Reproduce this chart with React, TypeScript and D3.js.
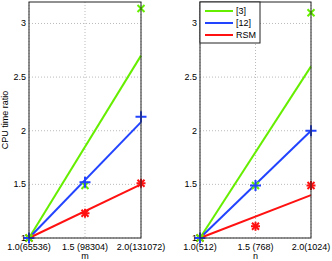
import React, { useEffect, useRef } from 'react';
import * as d3 from 'd3';

// x positions (scale factor) and tick labels
const xValues = [1, 1.5, 2];
const yTicks = [1, 1.5, 2, 2.5, 3];
const mTickLabels = ['1.0(65536)', '1.5 (98304)', '2.0(131072)'];
const nTickLabels = ['1.0(512)', '1.5 (768)', '2.0(1024)'];

const seriesNames = ['[3]', '[12]', 'RSM'];
const seriesColors = ['#66ee00', '#2244ff', '#ff1111'];
const markerShapes = ['x', '+', '*'];

// left panel (m): measured points and fitted line end values
const mMeasured = [
  [1, 1.49, 3.14],
  [1, 1.52, 2.13],
  [1, 1.23, 1.51],
];
const mFitEnd = [2.7, 2.08, 1.5];

// right panel (n)
const nMeasured = [
  [1, 1.49, 3.1],
  [1, 1.49, 2.0],
  [1, 1.11, 1.49],
];
const nFitEnd = [2.6, 2.0, 1.4];

const App: React.FC = () => {
  const svgRef = useRef<SVGSVGElement>(null);

  useEffect(() => {
    if (!svgRef.current) return;
    const svg = d3.select(svgRef.current);
    svg.selectAll('*').remove();

    const font = 'Liberation Sans, Arial, sans-serif';
    const y = d3.scaleLinear().domain([1, 3.2]).range([238, 2]);

    const drawPanel = (
      left: number,
      right: number,
      tickLabels: string[],
      xLabel: string,
      measured: number[][],
      fitEnd: number[],
      legend: boolean,
      yLabel: boolean
    ) => {
      const x = d3.scaleLinear().domain([1, 2]).range([left, right]);
      const g = svg.append('g');

      g.append('rect')
        .attr('x', left).attr('y', y(3.2))
        .attr('width', right - left).attr('height', y(1) - y(3.2))
        .attr('fill', 'white');

      // grid
      g.selectAll('.hgrid').data(yTicks).enter().append('line')
        .attr('x1', left).attr('x2', right)
        .attr('y1', d => y(d)).attr('y2', d => y(d))
        .attr('stroke', '#bbb').attr('stroke-width', 1)
        .attr('stroke-dasharray', '1,2');
      g.selectAll('.vgrid').data(xValues).enter().append('line')
        .attr('x1', d => x(d)).attr('x2', d => x(d))
        .attr('y1', y(3.2)).attr('y2', y(1))
        .attr('stroke', '#bbb').attr('stroke-width', 1)
        .attr('stroke-dasharray', '1,2');

      // fitted lines
      fitEnd.forEach((v, i) => {
        g.append('line')
          .attr('x1', x(1)).attr('y1', y(1))
          .attr('x2', x(2)).attr('y2', y(v))
          .attr('stroke', seriesColors[i]).attr('stroke-width', 2);
      });

      // markers (red first, then green, blue on top)
      [2, 0, 1].forEach(i => {
        measured[i].forEach((v, j) => {
          const cx = x(xValues[j]);
          const cy = y(v);
          const c = seriesColors[i];
          const s = 3.5;
          const mg = g.append('g').attr('transform', `translate(${cx},${cy})`)
            .attr('stroke', c).attr('stroke-width', 2).attr('fill', 'none');
          const shape = markerShapes[i];
          if (shape === 'x' || shape === '*') {
            mg.append('path').attr('d', `M${-s},${-s}L${s},${s}M${-s},${s}L${s},${-s}`);
          }
          if (shape === '+' || shape === '*') {
            const t = shape === '+' ? 5.5 : 4.5;
            mg.append('path').attr('d', `M${-t},0L${t},0M0,${-t}L0,${t}`);
          }
        });
      });

      // frame
      g.append('rect')
        .attr('x', left).attr('y', y(3.2))
        .attr('width', right - left).attr('height', y(1) - y(3.2))
        .attr('fill', 'none').attr('stroke', '#222').attr('stroke-width', 1);

      // y ticks
      g.selectAll('.ytl').data(yTicks).enter().append('text')
        .attr('x', left - 3).attr('y', d => y(d) + 3)
        .attr('text-anchor', 'end')
        .style('font-family', font).style('font-size', '9px')
        .text(d => String(d));

      // x ticks
      g.selectAll('.xtl').data(xValues).enter().append('text')
        .attr('x', d => x(d)).attr('y', 250)
        .attr('text-anchor', 'middle')
        .style('font-family', font).style('font-size', '9px')
        .text((d, i) => tickLabels[i]);

      g.append('text')
        .attr('x', (left + right) / 2).attr('y', 259)
        .attr('text-anchor', 'middle')
        .style('font-family', font).style('font-size', '9px')
        .text(xLabel);

      if (yLabel) {
        g.append('text')
          .attr('transform', `translate(8,${(y(1) + y(3.2)) / 2}) rotate(-90)`)
          .attr('text-anchor', 'middle')
          .style('font-family', font).style('font-size', '9px')
          .text('CPU time ratio');
      }

      if (legend) {
        const lg = g.append('g');
        lg.append('rect')
          .attr('x', left).attr('y', y(3.2))
          .attr('width', 60).attr('height', 41)
          .attr('fill', 'white').attr('stroke', '#222').attr('stroke-width', 1);
        seriesNames.forEach((name, i) => {
          const ly = y(3.2) + 9 + i * 12;
          lg.append('line')
            .attr('x1', left + 5).attr('x2', left + 33)
            .attr('y1', ly).attr('y2', ly)
            .attr('stroke', seriesColors[i]).attr('stroke-width', 2);
          lg.append('text')
            .attr('x', left + 36).attr('y', ly + 3)
            .style('font-family', font).style('font-size', '9px')
            .text(name);
        });
      }
    };

    drawPanel(29, 141, mTickLabels, 'm', mMeasured, mFitEnd, false, true);
    drawPanel(200, 311, nTickLabels, 'n', nMeasured, nFitEnd, true, false);
  }, []);

  return (
    <svg ref={svgRef} width={332} height={261}
      style={{ position: 'absolute', left: 0, top: 0, background: 'white' }} />
  );
};

export default App;
